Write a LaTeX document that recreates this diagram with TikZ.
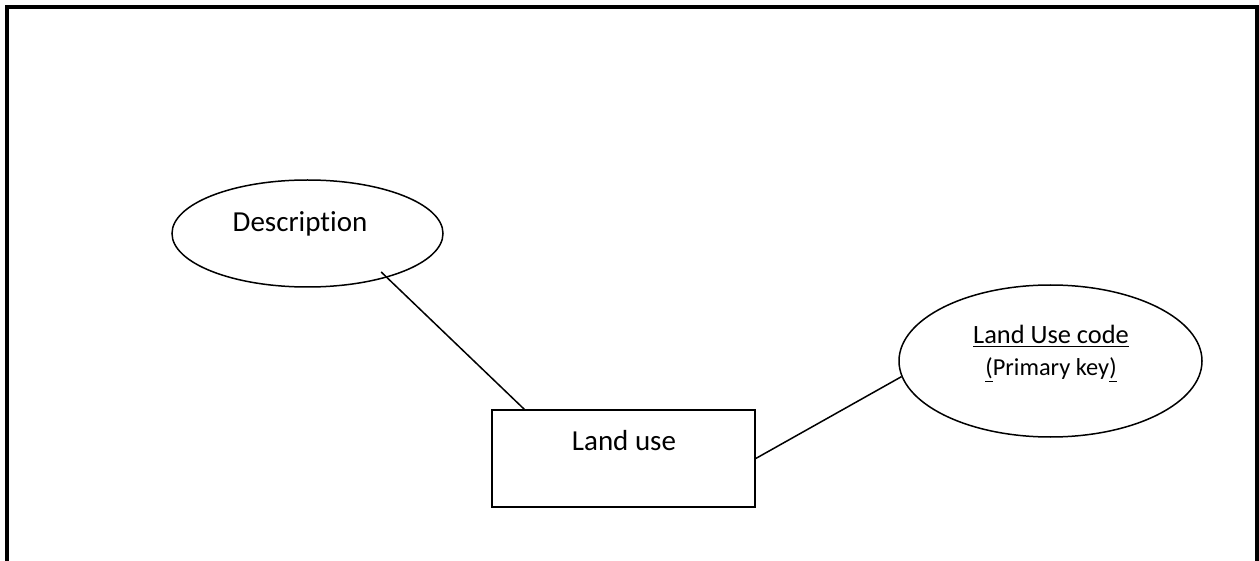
\documentclass[tikz,border=0pt]{standalone}
\usepackage{fontspec}
\setmainfont{Carlito}[Ligatures={NoCommon}]
\usetikzlibrary{shapes.geometric}
\usetikzlibrary{positioning}

\tikzset{
  attrib/.style={draw, ellipse, line width=0.75pt, inner sep=0pt},
  entity/.style={draw, rectangle, line width=0.75pt, inner sep=0pt, minimum width=131.5pt, minimum height=48.5pt},
  txt/.style={inner sep=0pt, font=\fontsize{14.5}{17}\selectfont}
}

\begin{document}
\begin{tikzpicture}[x=0.5pt, y=-0.5pt]
        \useasboundingbox (0,0) rectangle (1259,561);
        \draw[line width=2pt] (7,561) -- (7,7.5) -- (1257,7.5) -- (1257,561);
        \node[attrib, minimum width=135.5pt, minimum height=53.5pt] (desc) at (307.5,233.5) {};
        \node[txt] (desctext) at (300,224) {Description};
        \node[entity] (landuse) at (623.5,458.5) {};
        \node[txt] (landusetext) at (624,441) {Land use};
        \node[attrib, minimum width=151.5pt, minimum height=76pt] (code) at (1050.5,361) {};
        \node[txt, font=\fontsize{13.2}{16}\selectfont] (codetext) at (1051,336) {\underline{Land Use code}};
        \node[txt, font=\fontsize{12.2}{15}\selectfont] (keytext) at (1051,370) {\underline{(}Primary key\underline{)}};
        \draw[line width=0.75pt, shorten <=-4pt] (desc.-29) -- ([xshift=16.5pt]landuse.north west);
        \draw[line width=0.75pt] (landuse.east) -- (code.186);
      \end{tikzpicture}
\end{document}
